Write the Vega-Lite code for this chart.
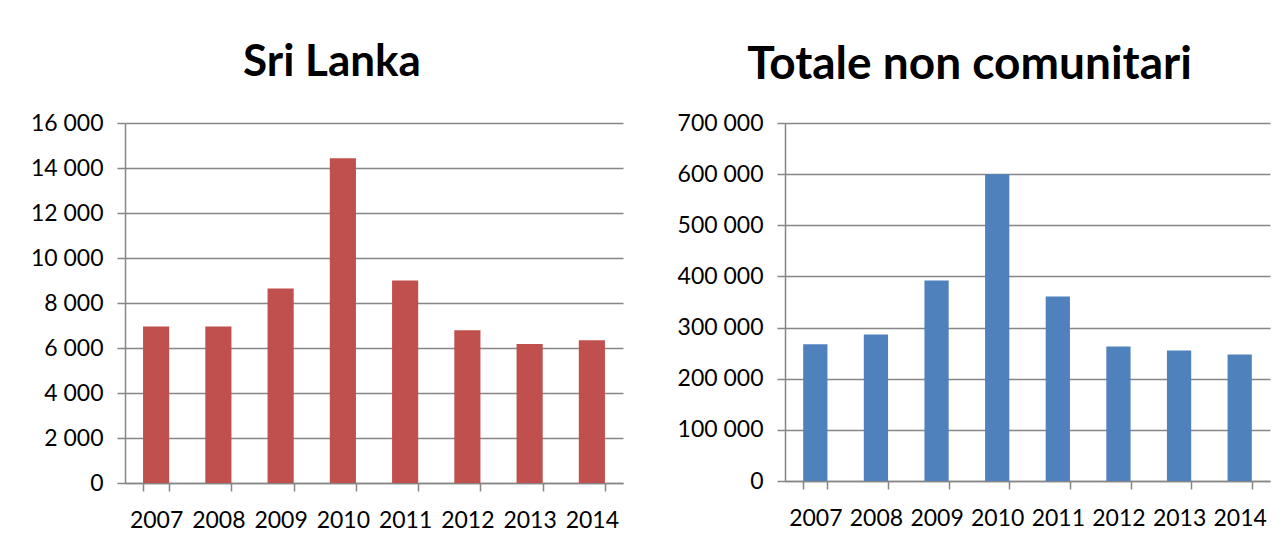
{
  "$schema": "https://vega.github.io/schema/vega-lite/v6.json",
  "background": "white",
  "padding": {"left": 30, "top": 41, "right": 5, "bottom": 5},
  "spacing": 54,
  "config": {
    "font": "Lato",
    "locale": {"number": {"decimal": ",", "thousands": " ", "grouping": [3], "currency": ["", " €"]}},
    "view": {"stroke": null},
    "axis": {
      "labelFont": "Lato",
      "labelFontSize": 23,
      "labelColor": "#000000",
      "domainColor": "#868686",
      "domainWidth": 1.5,
      "tickColor": "#868686",
      "tickWidth": 1.5,
      "tickSize": 8,
      "gridColor": "#868686",
      "gridWidth": 1.5,
      "gridOpacity": 1,
      "title": null
    },
    "title": {"font": "Lato", "fontSize": 44, "fontWeight": "bold", "color": "#000000", "anchor": "middle"}
  },
  "datasets": {
    "sl": [
      {"year": "2007", "value": 6960},
      {"year": "2008", "value": 6960},
      {"year": "2009", "value": 8650},
      {"year": "2010", "value": 14430},
      {"year": "2011", "value": 9000},
      {"year": "2012", "value": 6790},
      {"year": "2013", "value": 6180},
      {"year": "2014", "value": 6340}
    ],
    "tot": [
      {"year": "2007", "value": 267500},
      {"year": "2008", "value": 286400},
      {"year": "2009", "value": 392100},
      {"year": "2010", "value": 600000},
      {"year": "2011", "value": 360800},
      {"year": "2012", "value": 262900},
      {"year": "2013", "value": 255100},
      {"year": "2014", "value": 247300}
    ]
  },
  "hconcat": [
    {
      "title": {"text": "Sri Lanka", "dx": -42, "offset": 27},
      "width": 498,
      "height": 360,
      "data": {"name": "sl"},
      "mark": {"type": "bar", "color": "#C0504D"},
      "encoding": {
        "x": {
          "field": "year", "type": "ordinal",
          "scale": {"paddingInner": 0.58, "paddingOuter": 0.29},
          "axis": {"labelAngle": 0, "labelPadding": 18, "tickBand": "extent", "grid": false}
        },
        "y": {
          "field": "value", "type": "quantitative",
          "scale": {"domain": [0, 16000]},
          "axis": {"values": [0, 2000, 4000, 6000, 8000, 10000, 12000, 14000, 16000], "format": ",.0f", "labelPadding": 14}
        }
      }
    },
    {
      "title": {"text": "Totale non comunitari", "dx": -58, "offset": 23, "fontSize": 46},
      "width": 485,
      "height": 358,
      "data": {"name": "tot"},
      "mark": {"type": "bar", "color": "#4F81BD"},
      "encoding": {
        "x": {
          "field": "year", "type": "ordinal",
          "scale": {"paddingInner": 0.6, "paddingOuter": 0.3},
          "axis": {"labelAngle": 0, "labelPadding": 18, "tickBand": "extent", "grid": false}
        },
        "y": {
          "field": "value", "type": "quantitative",
          "scale": {"domain": [0, 700000]},
          "axis": {"values": [0, 100000, 200000, 300000, 400000, 500000, 600000, 700000], "format": ",.0f", "labelPadding": 14}
        }
      }
    }
  ]
}
